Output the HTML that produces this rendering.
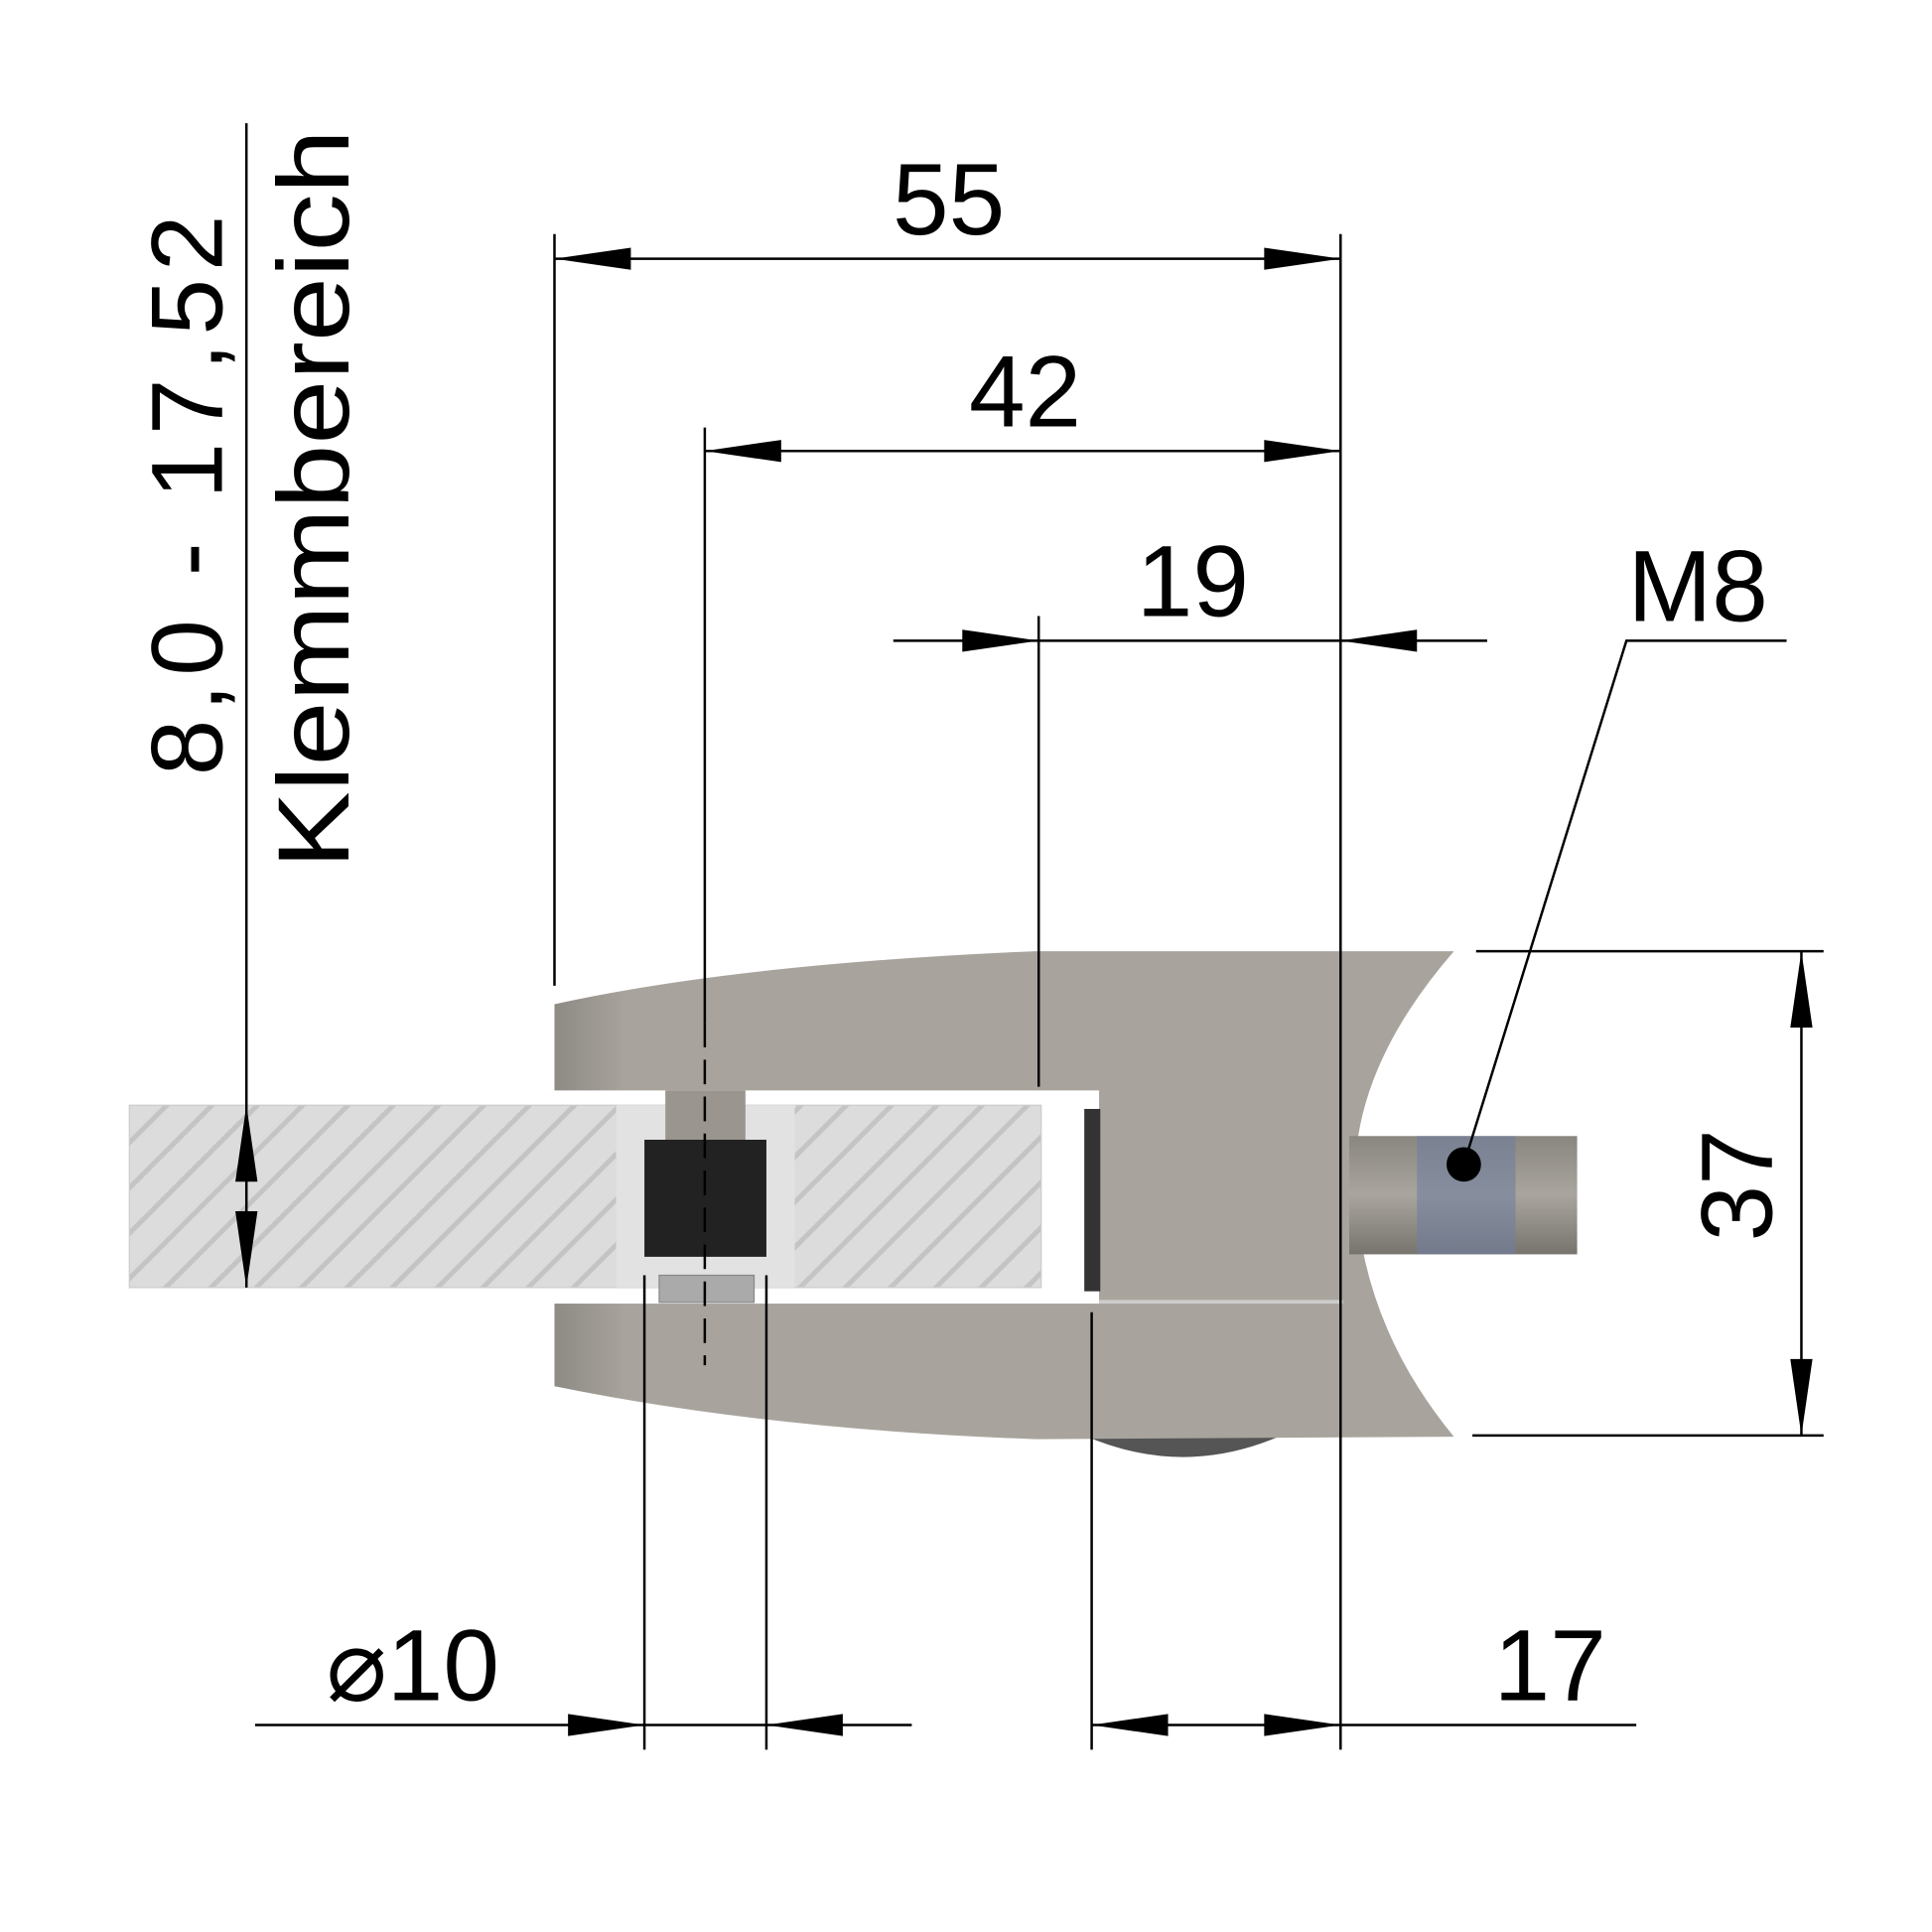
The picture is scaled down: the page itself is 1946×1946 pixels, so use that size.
<!DOCTYPE html>
<html><head><meta charset="utf-8"><style>html,body{margin:0;padding:0;background:#fff}svg{display:block}</style></head>
<body>
<svg width="1946" height="1946" viewBox="0 0 1568 1568" xmlns="http://www.w3.org/2000/svg" font-family="'Liberation Sans',sans-serif">
<defs>
<pattern id="h" width="26" height="26" patternUnits="userSpaceOnUse" patternTransform="rotate(45)">
<rect width="26" height="26" fill="#dcdcdc"/><rect x="0" y="0" width="4" height="26" fill="#c4c4c4"/>
</pattern>
<linearGradient id="jaw" x1="0" x2="1" y1="0" y2="0"><stop offset="0" stop-color="#8e8a84"/><stop offset="0.08" stop-color="#a8a49d"/><stop offset="1" stop-color="#a8a49d"/></linearGradient>
<linearGradient id="scr" x1="0" x2="0" y1="0" y2="1"><stop offset="0" stop-color="#8a8780"/><stop offset="0.5" stop-color="#a9a59e"/><stop offset="1" stop-color="#77746e"/></linearGradient>
</defs>
<path d="M880,1165 Q960,1200 1040,1165 Z" fill="#555"/>
<path d="M450,815 Q600,782 840,772 L1180,772 Q1095,870 1100,965 Q1105,1075 1180,1166 L840,1168 Q620,1160 450,1125 Z" fill="url(#jaw)"/>
<rect x="440" y="885" width="452" height="173" fill="#fff"/>
<rect x="892" y="1055" width="198" height="3" fill="#ccc"/>
<rect x="880" y="900" width="13" height="148" fill="#333"/>
<rect x="105" y="897" width="740" height="148" fill="url(#h)" stroke="#ccc"/>
<rect x="500" y="897" width="145" height="148" fill="#e2e2e2"/>
<rect x="540" y="885" width="65" height="42" fill="#9a968f"/>
<rect x="523" y="925" width="99" height="95" fill="#222"/>
<rect x="535" y="1035" width="77" height="22" fill="#aaa" stroke="#888"/>
<rect x="1095" y="922" width="185" height="96" fill="url(#scr)"/>
<rect x="1150" y="922" width="80" height="96" fill="#6f7f9e" opacity="0.6"/>
<circle cx="1188" cy="945" r="14" fill="#000"/>
<g stroke="#000" stroke-width="2" fill="none">
<path d="M450,190 V800 M1088,190 V1420 M572,347 V830 M843,500 V882 M200,100 V1045 M523,1035 V1420 M622,1035 V1420 M886,1065 V1420"/>
<path d="M572,830 V1108" stroke-dasharray="20,10"/>
<path d="M450,210 H1088 M572,366 H1088 M725,520 H1207 M207,1400 H740 M886,1400 H1328 M1462,772 V1165 M1198,772 H1480 M1195,1165 H1480 M1188,945 L1320,520 H1450"/>
</g>
<g fill="#000">
<path d="M450,210 l62,-9 v18z M1088,210 l-62,-9 v18z M572,366 l62,-9 v18z M1088,366 l-62,-9 v18z M843,520 l-62,-9 v18z M1088,520 l62,-9 v18z M523,1400 l-62,-9 v18z M622,1400 l62,-9 v18z M886,1400 l62,-9 v18z M1088,1400 l-62,-9 v18z M1462,772 l-9,62 h18z M1462,1165 l-9,-62 h18z M200,897 l-9,62 h18z M200,1045 l-9,-62 h18z"/>
</g>
<g font-size="82" fill="#000">
<text x="770" y="190" text-anchor="middle">55</text>
<text x="832" y="346" text-anchor="middle">42</text>
<text x="968" y="500" text-anchor="middle">19</text>
<text x="1378" y="504" text-anchor="middle">M8</text>
<text x="335" y="1380" text-anchor="middle">⌀10</text>
<text x="1258" y="1380" text-anchor="middle">17</text>
<text transform="translate(1438,962) rotate(-90)" text-anchor="middle">37</text>
<text transform="translate(180,402) rotate(-90)" text-anchor="middle" textLength="455" lengthAdjust="spacing">8,0 - 17,52</text>
<text transform="translate(283,405) rotate(-90)" text-anchor="middle" textLength="600" lengthAdjust="spacingAndGlyphs">Klemmbereich</text>
</g>
</svg>
</body></html>
